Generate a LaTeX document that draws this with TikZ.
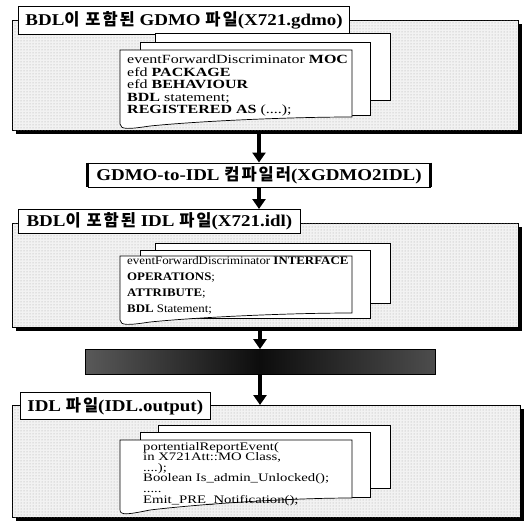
\documentclass[tikz,border=0pt]{standalone}
\usepackage{fontspec}
\setmainfont{Liberation Serif}
\newfontfamily\krfont[LetterSpace=12]{Noto Sans CJK KR}
\newfontfamily\titlefont[FakeStretch=1.15]{Liberation Serif}
\newfontfamily\docfont[FakeStretch=1.28]{Liberation Serif}
\newfontfamily\idlfont[FakeStretch=1.12]{Liberation Serif}
\usetikzlibrary{arrows.meta,patterns,positioning}

\tikzset{
  filebox/.style={draw, line width=0.8pt, anchor=north west, fill=black!5,
    preaction={fill=black, transform canvas={shift={(4pt,-4pt)}}},
    postaction={pattern=dots, pattern color=black!35}},
  tabbox/.style={draw, fill=white, line width=0.8pt, anchor=north west,
    inner xsep=7pt, font=\titlefont\fontsize{16.5}{18}\selectfont\bfseries},
  page/.style={draw, fill=white, line width=0.7pt},
  codetext/.style={anchor=north west, align=left, inner sep=0pt},
  flow/.style={line width=3.2pt, -{Triangle[width=13pt,length=10pt]}},
}

\begin{document}
\begin{tikzpicture}[x=1pt, y=-1pt]
  \useasboundingbox (0,0) rectangle (532,524);

  % --- GDMO 파일 ---
  \node[filebox, minimum width=506pt, minimum height=110pt] (gdmo) at (12,20) {};
  \node[tabbox, minimum width=282pt, minimum height=28pt] (gdmoT) at (18,6)
    {BDL{\krfont 이 포함된} GDMO {\krfont 파일}(X721.gdmo)};
  \draw[page] (155,33) rectangle (390,100);
  \draw[page] (140,42) rectangle (370,115);
  \draw[page] (120,50) -- (352,50) -- (352,117)
    .. controls (290,117) and (200,121) .. (150,126)
    .. controls (130,129) and (120,130) .. (120,124) -- cycle;
  \node[codetext, font=\docfont\fontsize{12.5}{12.5}\selectfont] (gdmoC) at (127,55)
    {eventForwardDiscriminator \textbf{MOC}\\
     efd \textbf{PACKAGE}\\
     efd \textbf{BEHAVIOUR}\\
     \textbf{BDL} statement;\\
     \textbf{REGISTERED AS} (....);};

  % --- 컴파일러 ---
  \node[draw, fill=white, line width=0.8pt, minimum width=342pt, minimum height=24pt,
        font=\titlefont\fontsize{16.5}{18}\selectfont\bfseries] (comp) at (259,175)
    {GDMO-to-IDL {\krfont 컴파일러}(XGDMO2IDL)};
  \draw[line width=2.6pt] (comp.north west) -- (comp.south west);
  \draw[line width=2.6pt] (comp.north east) -- (comp.south east);

  % --- IDL 파일 ---
  \node[filebox, minimum width=506pt, minimum height=104pt] (idl) at (12,223) {};
  \node[tabbox, minimum width=282pt, minimum height=24pt] (idlT) at (18,209)
    {BDL{\krfont 이 포함된} IDL {\krfont 파일}(X721.idl)};
  \draw[page] (155,243) rectangle (390,303);
  \draw[page] (140,250) rectangle (370,318);
  \draw[page] (120,256) -- (352,256) -- (352,313)
    .. controls (290,313) and (200,317) .. (150,322)
    .. controls (130,325) and (120,326) .. (120,320) -- cycle;
  \node[codetext, font=\idlfont\fontsize{11.5}{16}\selectfont] (idlC) at (127,256)
    {eventForwardDiscriminator \textbf{INTERFACE}\\
     \textbf{OPERATIONS};\\
     \textbf{ATTRIBUTE};\\
     \textbf{BDL} Statement;};

  % --- 변환 ---
  \node[draw, line width=0.8pt, minimum width=350pt, minimum height=25pt,
        left color=black!65, right color=black!70, middle color=black!95] (conv) at (260,362) {};

  % --- 출력 파일 ---
  \node[filebox, minimum width=508pt, minimum height=112pt] (out) at (12,405) {};
  \node[tabbox, minimum width=175pt, minimum height=27pt] (outT) at (20,392)
    {IDL {\krfont 파일}(IDL.output)};
  \draw[page] (158,425) rectangle (390,488);
  \draw[page] (140,432) rectangle (370,497);
  \draw[page] (120,440) -- (352,440) -- (352,498)
    .. controls (290,498) and (200,504) .. (150,510)
    .. controls (130,514) and (120,516) .. (120,510) -- cycle;
  \node[codetext, font=\docfont\fontsize{11.5}{10.6}\selectfont] (outC) at (143,442)
    {portentialReportEvent(\\
     in X721Att::MO Class,\\
     ....);\\
     Boolean Is\_admin\_Unlocked();\\
     .....\\
     Emit\_PRE\_Notification();};

  % --- 화살표 ---
  \draw[flow] (gdmo.south -| comp) -- (comp.north);
  \draw[flow] (comp.south) -- (comp.south |- idlT.north);
  \draw[flow] (idl.south -| conv) -- (conv.north);
  \draw[flow] (conv.south) -- (out.north -| conv);
\end{tikzpicture}
\end{document}
